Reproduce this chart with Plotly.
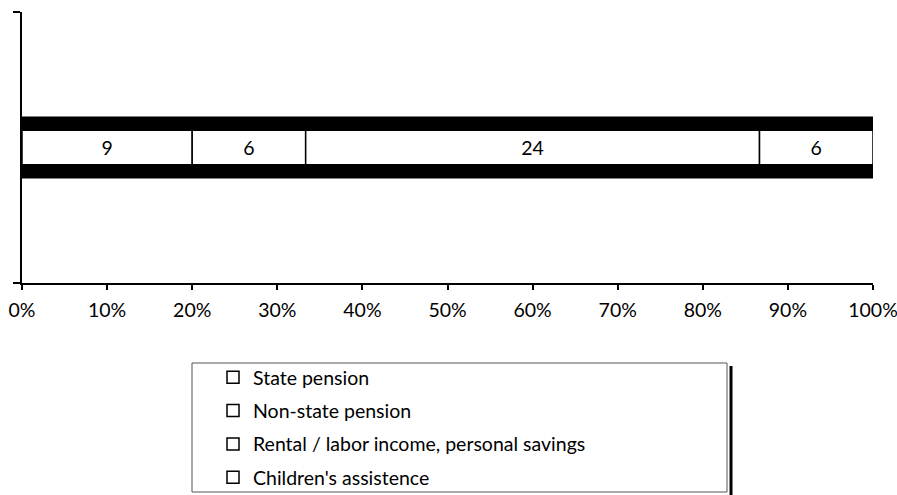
import plotly.graph_objects as go

# ---- data ----
categories = ["State pension", "Non-state pension",
              "Rental / labor income, personal savings", "Children's assistence"]
values = [9, 6, 24, 6]
x_tick_vals = [0, 10, 20, 30, 40, 50, 60, 70, 80, 90, 100]
x_tick_labels = ["0%", "10%", "20%", "30%", "40%", "50%", "60%", "70%", "80%", "90%", "100%"]

total = sum(values)
pct = [v / total * 100 for v in values]
bases = []
acc = 0
for p in pct:
    bases.append(acc)
    acc += p

W, H = 897, 495
L, R, T, B = 22, 24, 12, 212
FONT = "Lato"
FS = 19.5

fig = go.Figure()

# black outer band (full stacked total)
fig.add_trace(go.Bar(
    y=[0], x=[sum(pct)], base=[0], orientation="h", width=0.229,
    marker=dict(color="black", line=dict(width=0)),
    showlegend=False, hoverinfo="skip"))

for name, v, p, b in zip(categories, values, pct, bases):
    fig.add_trace(go.Bar(
        y=[0], x=[p], base=[b], orientation="h", width=0.127,
        name=name, legendgroup=name,
        marker=dict(color="white", line=dict(color="black", width=1.5)),
        text=[str(v)], textposition="inside", insidetextanchor="middle",
        textangle=0, constraintext="none",
        textfont=dict(color="black", size=FS, family=FONT)))

pw = W - L - R
ph = H - T - B

def px_x(px):
    return (px - L) / pw

def px_y(py):
    return (H - B - py) / ph

fig.update_layout(
    width=W, height=H,
    margin=dict(l=L, r=R, t=T, b=B, pad=0, autoexpand=False),
    barmode="overlay",
    plot_bgcolor="white", paper_bgcolor="white",
    font=dict(family=FONT, size=FS, color="black"),
    showlegend=True,
    legend=dict(xref="container", yref="container",
                x=213 / W, y=1 - 358 / H, xanchor="left", yanchor="top",
                bgcolor="rgba(0,0,0,0)", borderwidth=0,
                tracegroupgap=5, traceorder="grouped",
                font=dict(family=FONT, size=FS, color="black")),
    xaxis=dict(range=[0, 100], tickvals=x_tick_vals, ticktext=x_tick_labels,
               showgrid=False, zeroline=False, showline=True, linecolor="black",
               linewidth=2, ticks="outside", ticklen=5, tickwidth=2,
               tickcolor="black", ticklabelstandoff=4, automargin=False,
               ticklabeloverflow="allow",
               tickfont=dict(family=FONT, size=FS, color="black")),
    yaxis=dict(range=[-0.5, 0.5], tickvals=[-0.5, 0.5], ticktext=["", ""],
               showgrid=False, zeroline=False, showline=True, linecolor="black",
               linewidth=2, ticks="outside", ticklen=7, tickwidth=2,
               tickcolor="black", automargin=False),
    shapes=[
        dict(type="rect", xref="paper", yref="paper",
             x0=px_x(192), x1=px_x(727), y0=px_y(363), y1=px_y(492),
             line=dict(color="#555555", width=1), fillcolor="rgba(0,0,0,0)",
             layer="below"),
        dict(type="line", xref="paper", yref="paper",
             x0=px_x(731), x1=px_x(731), y0=px_y(366), y1=px_y(495),
             line=dict(color="black", width=3)),
    ],
)

fig.write_html("out.html", config={"displayModeBar": False},
               post_script="document.body.style.margin='0';document.body.style.overflow='hidden';")
